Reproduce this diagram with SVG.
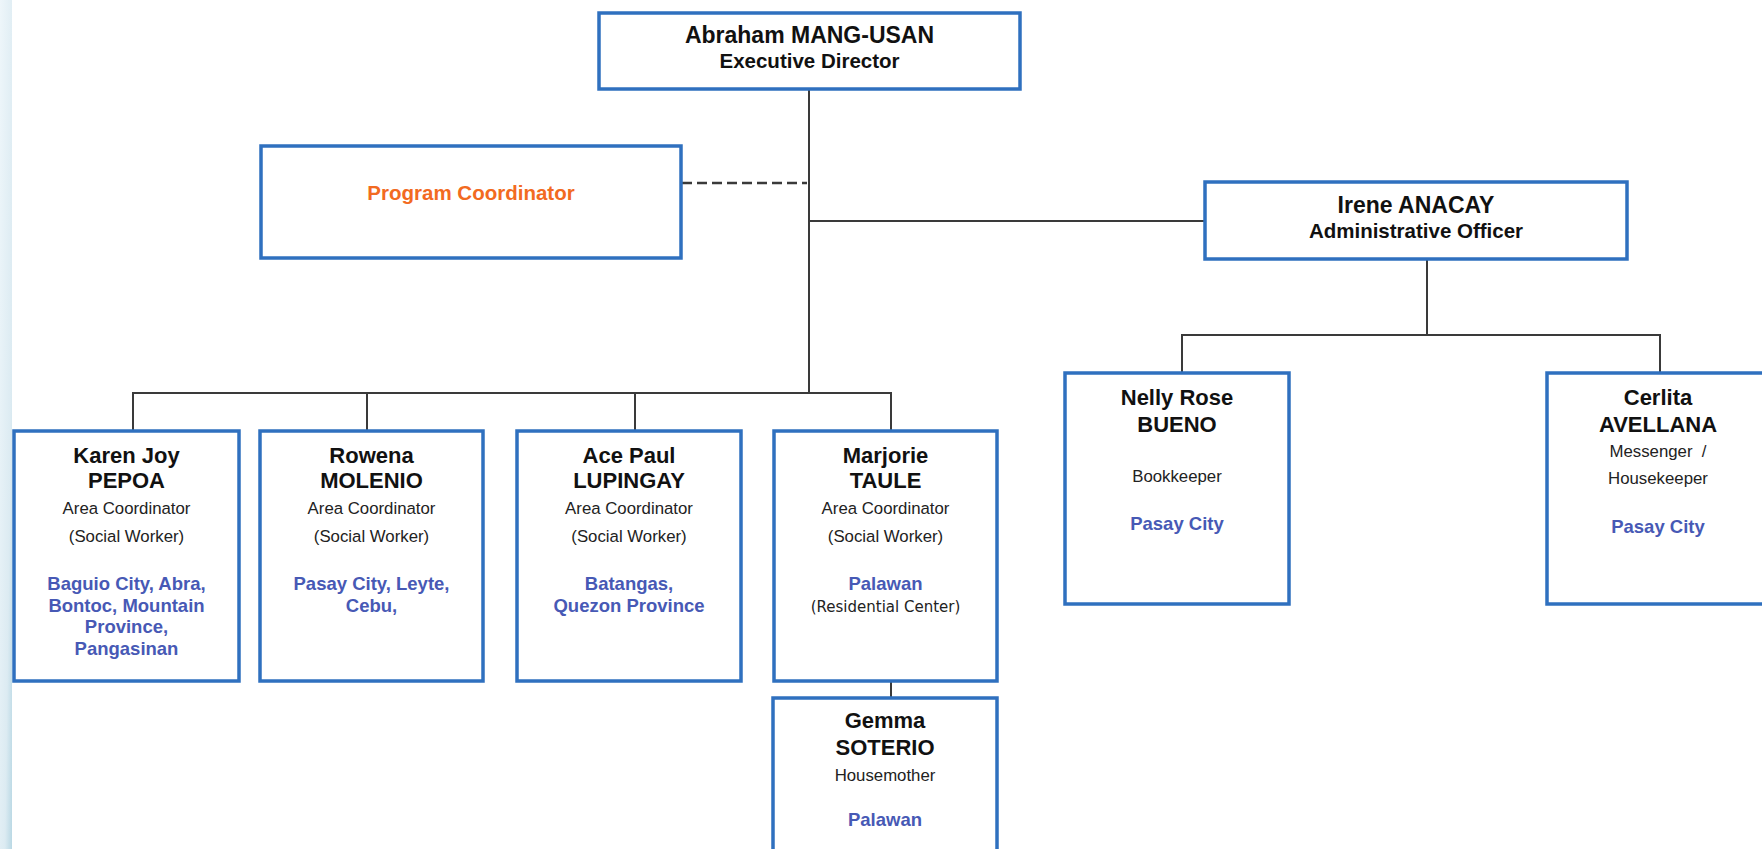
<svg xmlns="http://www.w3.org/2000/svg" width="1762" height="849" viewBox="0 0 1762 849">
<defs>
<linearGradient id="edge" x1="0" y1="0" x2="1" y2="1">
<stop offset="0" stop-color="#eef6fa"/>
<stop offset="0.7" stop-color="#dcebf2"/>
<stop offset="1" stop-color="#b9d8e4"/>
</linearGradient>
<style>
.box{fill:#fff;stroke:#2f70bf;stroke-width:3.5}
.ln{stroke:#3a3a3a;stroke-width:2;fill:none}
.dash{stroke:#3a3a3a;stroke-width:2.5;fill:none;stroke-dasharray:10 5}
text{font-family:"Liberation Sans",Arial,sans-serif;text-anchor:middle}
.nm{font-size:22px;font-weight:bold;fill:#111}
.hd{font-size:23px;font-weight:bold;fill:#111}
.hd2{font-size:20.5px;font-weight:bold;fill:#111}
.rl{font-size:16.8px;fill:#222}
.loc{font-size:18.5px;font-weight:bold;fill:#4759b5}
.pc{font-size:20.5px;font-weight:bold;fill:#f26a21}
.rc{font-family:"DejaVu Sans",Verdana,sans-serif;font-size:15px;fill:#222}
</style>
</defs>
<rect x="0" y="0" width="1762" height="849" fill="#fff"/>
<rect x="0" y="0" width="12" height="849" fill="url(#edge)"/>

<g id="connectors">
<line class="ln" x1="809" y1="89" x2="809" y2="393"/>
<line class="dash" x1="682" y1="183" x2="807" y2="183"/>
<line class="ln" x1="809" y1="221" x2="1205" y2="221"/>
<polyline class="ln" points="133,431 133,393 891,393 891,431"/>
<line class="ln" x1="367" y1="393" x2="367" y2="431"/>
<line class="ln" x1="635" y1="393" x2="635" y2="431"/>
<line class="ln" x1="891" y1="681" x2="891" y2="698"/>
<line class="ln" x1="1427" y1="259" x2="1427" y2="335"/>
<polyline class="ln" points="1182,373 1182,335 1660,335 1660,373"/>
</g>

<g id="executive-director">
<rect class="box" x="599" y="13" width="421" height="76"/>
<text class="hd" x="809.5" y="43">Abraham MANG-USAN</text>
<text class="hd2" x="809.5" y="68">Executive Director</text>
</g>

<g id="program-coordinator">
<rect class="box" x="261" y="146" width="420" height="112"/>
<text class="pc" x="471" y="200">Program Coordinator</text>
</g>

<g id="administrative-officer">
<rect class="box" x="1205" y="182" width="422" height="77"/>
<text class="hd" x="1416" y="213">Irene ANACAY</text>
<text class="hd2" x="1416" y="238">Administrative Officer</text>
</g>

<g id="karen">
<rect class="box" x="14" y="431" width="225" height="250"/>
<text class="nm" x="126.5" y="463">Karen Joy</text>
<text class="nm" x="126.5" y="488">PEPOA</text>
<text class="rl" x="126.5" y="514">Area Coordinator</text>
<text class="rl" x="126.5" y="542">(Social Worker)</text>
<text class="loc" x="126.5" y="590">Baguio City, Abra,</text>
<text class="loc" x="126.5" y="612">Bontoc, Mountain</text>
<text class="loc" x="126.5" y="633">Province,</text>
<text class="loc" x="126.5" y="655">Pangasinan</text>
</g>

<g id="rowena">
<rect class="box" x="260" y="431" width="223" height="250"/>
<text class="nm" x="371.5" y="463">Rowena</text>
<text class="nm" x="371.5" y="488">MOLENIO</text>
<text class="rl" x="371.5" y="514">Area Coordinator</text>
<text class="rl" x="371.5" y="542">(Social Worker)</text>
<text class="loc" x="371.5" y="590">Pasay City, Leyte,</text>
<text class="loc" x="371.5" y="612">Cebu,</text>
</g>

<g id="ace">
<rect class="box" x="517" y="431" width="224" height="250"/>
<text class="nm" x="629" y="463">Ace Paul</text>
<text class="nm" x="629" y="488">LUPINGAY</text>
<text class="rl" x="629" y="514">Area Coordinator</text>
<text class="rl" x="629" y="542">(Social Worker)</text>
<text class="loc" x="629" y="590">Batangas,</text>
<text class="loc" x="629" y="612">Quezon Province</text>
</g>

<g id="marjorie">
<rect class="box" x="774" y="431" width="223" height="250"/>
<text class="nm" x="885.5" y="463">Marjorie</text>
<text class="nm" x="885.5" y="488">TAULE</text>
<text class="rl" x="885.5" y="514">Area Coordinator</text>
<text class="rl" x="885.5" y="542">(Social Worker)</text>
<text class="loc" x="885.5" y="590">Palawan</text>
<text class="rc" x="885.5" y="612">(Residential Center)</text>
</g>

<g id="gemma">
<rect class="box" x="773" y="698" width="224" height="154"/>
<text class="nm" x="885" y="728">Gemma</text>
<text class="nm" x="885" y="755">SOTERIO</text>
<text class="rl" x="885" y="781">Housemother</text>
<text class="loc" x="885" y="826">Palawan</text>
</g>

<g id="nelly">
<rect class="box" x="1065" y="373" width="224" height="231"/>
<text class="nm" x="1177" y="405">Nelly Rose</text>
<text class="nm" x="1177" y="432">BUENO</text>
<text class="rl" x="1177" y="482">Bookkeeper</text>
<text class="loc" x="1177" y="530">Pasay City</text>
</g>

<g id="cerlita">
<rect class="box" x="1547" y="373" width="224" height="231"/>
<text class="nm" x="1658" y="405">Cerlita</text>
<text class="nm" x="1658" y="432">AVELLANA</text>
<text class="rl" x="1658" y="457" xml:space="preserve">Messenger  /</text>
<text class="rl" x="1658" y="484">Housekeeper</text>
<text class="loc" x="1658" y="533">Pasay City</text>
</g>
</svg>
